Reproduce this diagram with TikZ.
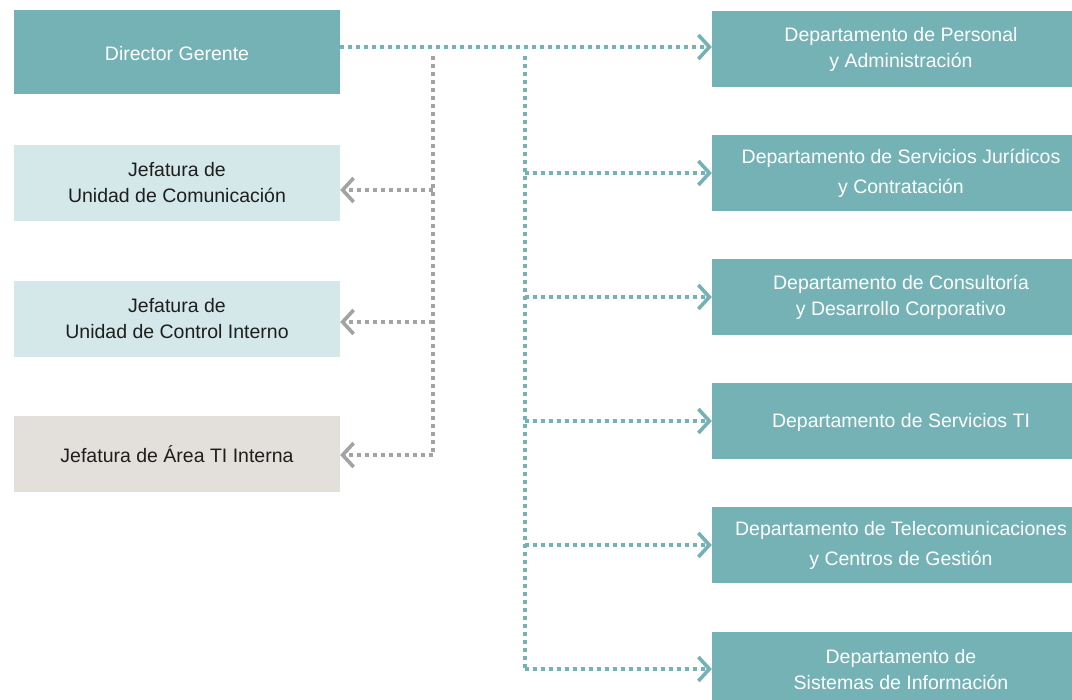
\documentclass[tikz,border=0pt]{standalone}
\usepackage{fontspec}
\setmainfont{Liberation Sans}
\usetikzlibrary{arrows.meta}
\definecolor{teal1}{HTML}{74B2B6}
\definecolor{lightbox}{HTML}{D4E8E9}
\definecolor{beigebox}{HTML}{E3E0DB}
\definecolor{grayline}{HTML}{A3A3A3}
\definecolor{textdark}{HTML}{1E1E1E}
\tikzset{
  box/.style={rectangle, inner sep=0pt, align=center, font=\fontsize{19.5}{26}\selectfont,
     execute at begin node={\rule{0pt}{18pt}}},
  tealbox/.style={box, fill=teal1, text=white},
  lightb/.style={box, fill=lightbox, text=textdark},
  beigeb/.style={box, fill=beigebox, text=textdark},
  leftbox/.style={minimum width=326pt, minimum height=76pt},
  rightbox/.style={minimum width=378pt, minimum height=76pt},
  conn/.style={line width=3.6pt, dash pattern=on 3.8pt off 4.2pt,
     -{Straight Barb[length=11pt,width=24pt,line width=3.6pt]}},
  tealconn/.style={conn, draw=teal1},
  grayconn/.style={conn, draw=grayline},
  trunk/.style={line width=3.6pt, dash pattern=on 3.8pt off 4.2pt}
}
\begin{document}
\begin{tikzpicture}[x=1pt,y=-1pt]
\clip (0,0) rectangle (1072,700);
\fill[white] (0,0) rectangle (1072,700);
% left column
\node[tealbox, leftbox, minimum height=84pt] (dg) at (177,52) {Director Gerente};
\node[lightb, leftbox] (uc) at (177,183) {Jefatura de\\Unidad de Comunicación};
\node[lightb, leftbox] (ci) at (177,319) {Jefatura de\\Unidad de Control Interno};
\node[beigeb, leftbox] (ti) at (177,454) {Jefatura de Área TI Interna};
% right column
\node[tealbox, rightbox] (d1) at (901,49) {Departamento de Personal\\y Administración};
\node[tealbox, rightbox] (d2) at (901,173) {Departamento de Servicios Jurídicos\\[4pt]y Contratación};
\node[tealbox, rightbox] (d3) at (901,297) {Departamento de Consultoría\\y Desarrollo Corporativo};
\node[tealbox, rightbox] (d4) at (901,421) {Departamento de Servicios TI};
\node[tealbox, rightbox] (d5) at (901,545) {Departamento de Telecomunicaciones\\[4pt]y Centros de Gestión};
\node[tealbox, rightbox] (d6) at (901,670) {Departamento de\\Sistemas de Información};
% trunk and branch coordinates
\coordinate (m) at (433,47);
\coordinate (gt) at (433,56);
\coordinate (g1) at (433,190);
\coordinate (g2) at (433,322);
\coordinate (g3) at (433,455);
\coordinate (tt) at (525,56);
\coordinate (t2) at (525,173);
\coordinate (t3) at (525,297);
\coordinate (t4) at (525,421);
\coordinate (t5) at (525,545);
\coordinate (t6) at (525,669);
% main connector
\draw[tealconn] (dg.east |- m) -- (d1.west |- m);
% gray trunk and branches
\draw[trunk, draw=grayline] (gt) -- (g3);
\draw[grayconn] (g1) -- (uc.east |- g1);
\draw[grayconn] (g2) -- (ci.east |- g2);
\draw[grayconn] (g3) -- (ti.east |- g3);
% teal trunk and branches
\draw[trunk, draw=teal1] (tt) -- (t6);
\draw[tealconn] (t2) -- (d2.west |- t2);
\draw[tealconn] (t3) -- (d3.west |- t3);
\draw[tealconn] (t4) -- (d4.west |- t4);
\draw[tealconn] (t5) -- (d5.west |- t5);
\draw[tealconn] (t6) -- (d6.west |- t6);
\end{tikzpicture}
\end{document}
